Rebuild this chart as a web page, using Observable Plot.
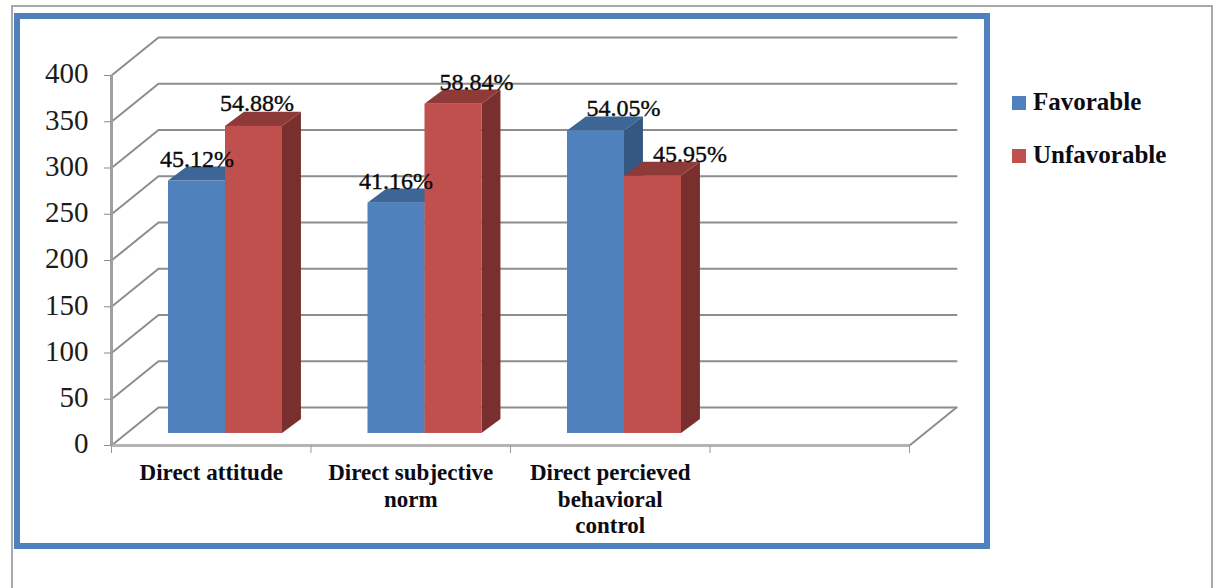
<!DOCTYPE html>
<html>
<head>
<meta charset="utf-8">
<script src="https://cdn.jsdelivr.net/npm/d3@7"></script>
<script src="https://cdn.jsdelivr.net/npm/@observablehq/plot@0.6"></script>
<style>
  html, body { margin: 0; padding: 0; background: #fff; overflow: hidden; }
  #page { position: relative; width: 1216px; height: 588px; overflow: hidden; font-family: "Liberation Serif", serif; }
  #page svg { position: absolute; left: 0; top: 0; max-width: none; background: transparent; }
  .sheet { position: absolute; left: 11px; top: 5px; width: 1202px; height: 590px; box-sizing: border-box; border: 2px solid #a9a9a9; }
  .panel { position: absolute; left: 14px; top: 13px; width: 976px; height: 536px; box-sizing: border-box; border: 6px solid #4f81bd; }
  .key { position: absolute; left: 1012px; font-weight: bold; font-size: 25px; line-height: 26px; color: #0b0b14; white-space: nowrap; }
  .key i { display: inline-block; width: 14px; height: 14px; margin-right: 7px; }
</style>
</head>
<body>
<div id="page">
  <div class="sheet"></div>
  <div class="panel"></div>
</div>
<script>
// Respondents in each attitude class; the percentages are derived from these counts.
const respondents = 605;
const categories = ["Direct attitude", "Direct subjective\nnorm", "Direct percieved\nbehavioral\ncontrol"];
const favorable = [273, 249, 327];
const unfavorable = [332, 356, 278];
const seriesNames = ["Favorable", "Unfavorable"];

const yTicks = [0, 50, 100, 150, 200, 250, 300, 350, 400];
const slots = [0, 1, 2, 3, 4];

// Perspective of the chart box and of the bars, expressed in scale units.
const wallDepthX = 0.2356, wallDepthY = 41;
const barDepthX = 0.095, barDepthY = 15.2;
const barLift = 13;
const barStart = 0.2857, barWidth = 0.2857;

const palettes = [
  {front: "#4f81bd", side: "#345882", top: "#3d6595"},
  {front: "#c0504d", side: "#792f2d", top: "#8e3a38"}
];

// Hand-placed label offsets, one per bar, in pixels.
const labelDx = [[0, -0.5, 27.5], [3, 23, 37]];
const labelDy = [[-14, -14, -15], [-15, -14, -14]];

const gridPaths = yTicks.flatMap(v => [
  {v, x: 0, y: v},
  {v, x: wallDepthX, y: v + wallDepthY},
  {v, x: 4 + wallDepthX, y: v + wallDepthY}
]);
const floorEdge = [{x: 4, y: 0}, {x: 4 + wallDepthX, y: wallDepthY}];

function seriesMarks(values, s) {
  const colors = palettes[s];
  const bars = values.map((value, i) => {
    const x0 = i + barStart + s * barWidth;
    const x1 = x0 + barWidth;
    return {i, value, x0, x1, base: barLift, top: barLift + value};
  });
  const sides = bars.flatMap(b => [
    {i: b.i, x: b.x1, y1: b.base, y2: b.top},
    {i: b.i, x: b.x1 + barDepthX, y1: b.base + barDepthY, y2: b.top + barDepthY}
  ]);
  const tops = bars.flatMap(b => [
    {i: b.i, x: b.x0, y1: b.top, y2: b.top},
    {i: b.i, x: b.x0 + barDepthX, y1: b.top, y2: b.top + barDepthY},
    {i: b.i, x: b.x1, y1: b.top, y2: b.top + barDepthY},
    {i: b.i, x: b.x1 + barDepthX, y1: b.top + barDepthY, y2: b.top + barDepthY}
  ]);
  return [
    Plot.area(sides, {x1: "x", y1: "y1", y2: "y2", z: "i", fill: colors.side}),
    Plot.area(tops, {x1: "x", y1: "y1", y2: "y2", z: "i", fill: colors.top}),
    Plot.rect(bars, {x1: "x0", x2: "x1", y1: "base", y2: "top", fill: colors.front})
  ];
}

function seriesLabels(values, s) {
  return values.map((value, i) => Plot.text([value], {
    x: () => i + barStart + (s + 0.5) * barWidth,
    y: v => barLift + v,
    text: v => d3.format(".2f")(v / respondents * 100) + "%",
    dx: labelDx[s][i],
    dy: labelDy[s][i],
    lineAnchor: "bottom",
    fontFamily: "Liberation Serif",
    fontSize: 24,
    fill: "#0a0a0a",
    stroke: "#0a0a0a",
    strokeWidth: 0.4
  }));
}

const chart = Plot.plot({
  width: 1216,
  height: 588,
  marginLeft: 111,
  marginRight: 307,
  marginTop: 75,
  marginBottom: 143,
  style: {background: "transparent"},
  x: {domain: [0, 4]},
  y: {domain: [0, 400]},
  marks: [
    Plot.line(gridPaths, {x: "x", y: "y", z: "v", stroke: "#8d8d8d", strokeWidth: 2}),
    Plot.line(floorEdge, {x: "x", y: "y", stroke: "#8d8d8d", strokeWidth: 2}),
    Plot.ruleY([0], {stroke: "#b4b4b4", strokeWidth: 3}),
    Plot.ruleX([0], {stroke: "#a0a0a0", strokeWidth: 3}),
    Plot.axisY({ticks: yTicks, label: null, tickSize: 7, text: null, stroke: "#8d8d8d"}),
    Plot.axisY({
      ticks: yTicks, label: null, tickSize: 0, tickPadding: 23, dy: -1.5,
      fill: "#1c1c1c", fontFamily: "Liberation Serif", fontSize: 29
    }),
    Plot.axisX({
      ticks: slots, label: null, tickSize: 8, tickFormat: () => "",
      stroke: "#9a9a9a"
    }),
    ...seriesMarks(favorable, 0),
    ...seriesMarks(unfavorable, 1),
    ...seriesLabels(favorable, 0),
    ...seriesLabels(unfavorable, 1),
    Plot.text(categories, {
      x: (d, i) => i + 0.5,
      y: () => 0,
      dy: 15,
      text: d => d,
      lineAnchor: "top",
      lineHeight: 1.17,
      fontFamily: "Liberation Serif",
      fontWeight: "bold",
      fontSize: 23,
      fill: "#0b0b14"
    })
  ]
});

const page = document.getElementById("page");
page.appendChild(chart);

// Legend to the right of the framed panel.
seriesNames.forEach((name, s) => {
  const row = document.createElement("div");
  row.className = "key";
  row.style.top = (89 + s * 53) + "px";
  const swatch = document.createElement("i");
  swatch.style.background = palettes[s].front;
  row.append(swatch, name);
  page.appendChild(row);
});
</script>
</body>
</html>
